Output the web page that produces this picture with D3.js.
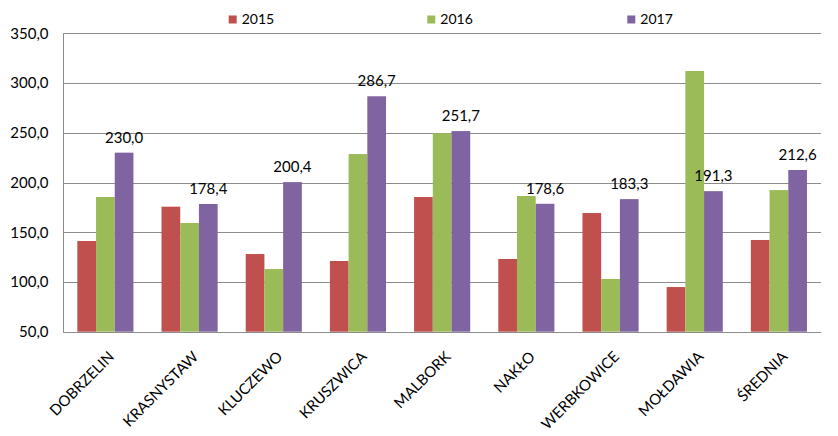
<!DOCTYPE html>
<html>
<head>
<meta charset="utf-8">
<script src="https://cdn.jsdelivr.net/npm/d3@7"></script>
<style>
  html, body { margin: 0; padding: 0; background: #ffffff; }
  svg { display: block; }
  text { font-family: Lato, "Noto Sans", sans-serif; fill: #000; }
</style>
</head>
<body>
<svg id="chart" width="838" height="436"></svg>
<script>
const categories = ["DOBRZELIN", "KRASNYSTAW", "KLUCZEWO", "KRUSZWICA", "MALBORK", "NAKŁO", "WERBKOWICE", "MOŁDAWIA", "ŚREDNIA"];
const seriesNames = ["2015", "2016", "2017"];
const values2015 = [141.2, 175.7, 128.1, 121.1, 185.4, 123.1, 169.3, 94.9, 142.2];
const values2016 = [185.4, 159.3, 113.0, 228.6, 249.5, 186.4, 103.0, 312.1, 192.4];
const values2017 = [230.0, 178.4, 200.4, 286.7, 251.7, 178.6, 183.3, 191.3, 212.6];
const yTicks = [50, 100, 150, 200, 250, 300, 350];
const colors = ["#C0504D", "#9BBB59", "#8064A2"];

const seriesValues = [values2015, values2016, values2017];
const fmt = v => v.toFixed(1).replace(".", ",");

const svg = d3.select("#chart");
const plot = { left: 63.3, right: 821, top: 33.3, bottom: 331.7 };

const y = d3.scaleLinear().domain([50, 350]).range([plot.bottom, plot.top]);
const x = d3.scaleBand().domain(categories).range([plot.left, plot.right])
  .paddingInner(1 / 3).paddingOuter(1 / 6);
const xs = d3.scaleBand().domain(seriesNames).range([0, x.bandwidth()]).padding(0);

// gridlines
svg.append("g").selectAll("line").data(yTicks.filter(t => t !== 50)).join("line")
  .attr("x1", plot.left).attr("x2", plot.right)
  .attr("y1", d => Math.round(y(d)) + 0.5).attr("y2", d => Math.round(y(d)) + 0.5)
  .attr("stroke", "#8c8c8c").attr("stroke-width", 1);

// bars
const groups = svg.append("g").selectAll("g").data(categories).join("g")
  .attr("transform", d => `translate(${x(d)},0)`);
groups.selectAll("rect").data((c, i) => seriesNames.map((s, k) => ({ s, k, v: seriesValues[k][i] })))
  .join("rect")
  .attr("x", d => xs(d.s)).attr("width", xs.bandwidth())
  .attr("y", d => y(d.v)).attr("height", d => y(50) - y(d.v))
  .attr("fill", d => colors[d.k]);

// axes
const yAxis = d3.axisLeft(y).tickValues(yTicks).tickFormat(fmt).tickSize(0).tickPadding(15);
const gy = svg.append("g").attr("transform", `translate(${Math.round(plot.left) + 0.5},0)`).call(yAxis);
gy.select(".domain").attr("stroke", "#8c8c8c").attr("d", `M0,${plot.top}V${Math.round(plot.bottom) + 0.5}`);
gy.selectAll("text").style("font-family", "Lato, 'Noto Sans', sans-serif").style("font-size", "15px").attr("fill", "#000");

svg.append("line")
  .attr("x1", plot.left).attr("x2", plot.right)
  .attr("y1", Math.round(plot.bottom) + 0.5).attr("y2", Math.round(plot.bottom) + 0.5)
  .attr("stroke", "#8c8c8c");

// x labels
svg.append("g").selectAll("text").data(categories).join("text")
  .attr("transform", d => `translate(${x(d) + x.bandwidth() / 2 + 2},350) rotate(-45)`)
  .attr("dy", "0.72em")
  .attr("text-anchor", "end")
  .style("font-size", "15px")
  .text(d => d);

// data labels (2017)
svg.append("g").selectAll("text").data(categories).join("text")
  .attr("x", d => x(d) + xs("2017") + xs.bandwidth() / 2)
  .attr("y", (d, i) => y(values2017[i]) - 10)
  .attr("text-anchor", "middle")
  .style("font-size", "15px")
  .text((d, i) => fmt(values2017[i]));

// legend
const legendX = [228.7, 427.3, 627.3];
const lg = svg.append("g").selectAll("g").data(seriesNames).join("g")
  .attr("transform", (d, i) => `translate(${legendX[i]},0)`);
lg.append("rect").attr("x", 0).attr("y", 15.5).attr("width", 8).attr("height", 8)
  .attr("fill", (d, i) => colors[i]);
lg.append("text").attr("x", 13).attr("y", 24).style("font-size", "14px").text(d => d);
</script>
</body>
</html>
